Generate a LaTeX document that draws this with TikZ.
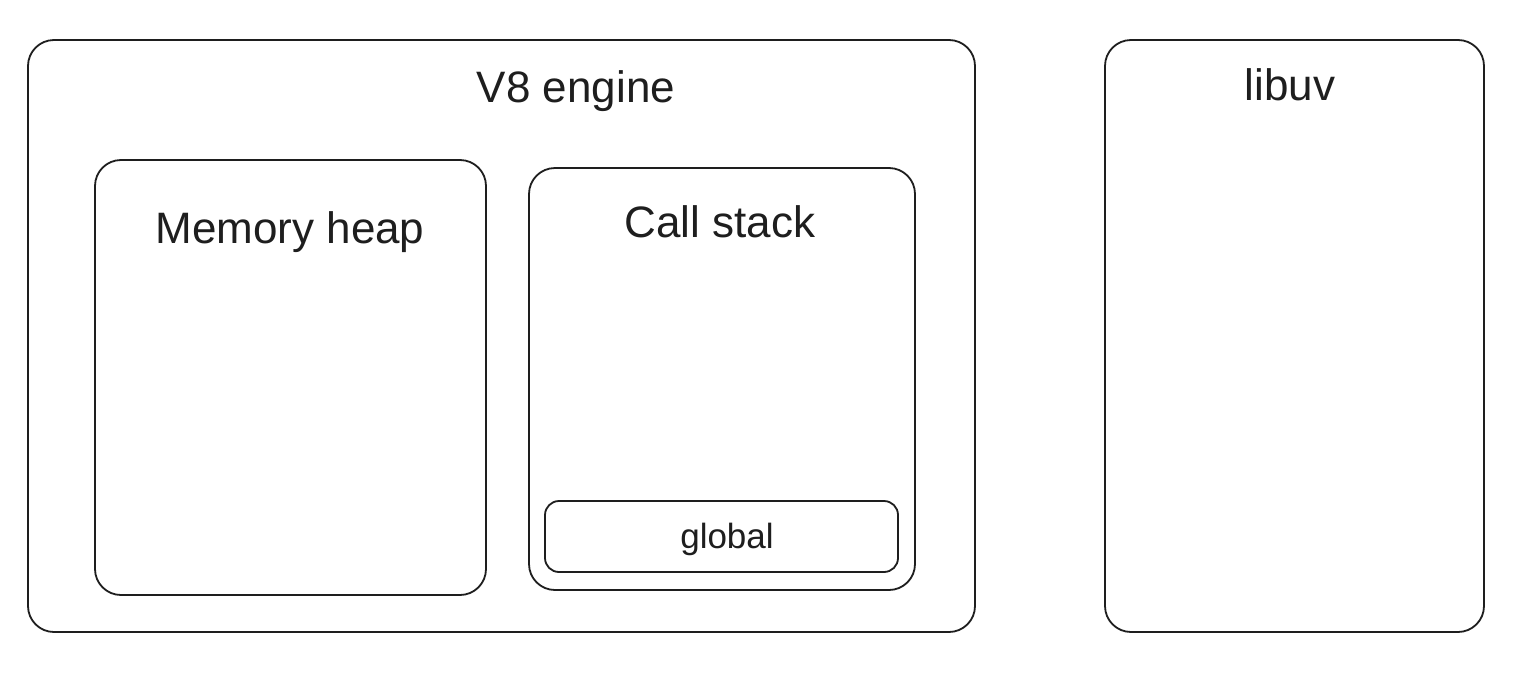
\documentclass[tikz,border=0pt]{standalone}
\usepackage{fontspec}
\setmainfont{Liberation Sans}
\definecolor{ink}{HTML}{1E1E1E}
\begin{document}
\begin{tikzpicture}[x=1pt,y=-1pt,
  box/.style={draw=ink,line width=1.8pt,rounded corners=26pt},
  smallbox/.style={draw=ink,line width=1.8pt,rounded corners=14pt},
  title/.style={text=ink,font=\fontsize{44}{48}\selectfont,inner sep=0pt,anchor=base},
  small/.style={text=ink,font=\fontsize{35}{39}\selectfont,inner sep=0pt,anchor=base}]
\useasboundingbox[fill=white] (0,0) rectangle (1518,672);
\draw[box] (28,40) rectangle (975,632);
\node[title] (v8) at (576,102) {V8 engine};
\draw[box] (95,160) rectangle (486,595);
\node[title] (heap) at (290,243) {Memory heap};
\draw[box] (529,168) rectangle (915,590);
\node[title] (stack) at (720,237) {Call stack};
\draw[smallbox] (545,501) rectangle (898,572);
\node[small] (global) at (727,548) {global};
\draw[box] (1105,40) rectangle (1484,632);
\node[title] (libuv) at (1290,100) {libuv};
\end{tikzpicture}
\end{document}
